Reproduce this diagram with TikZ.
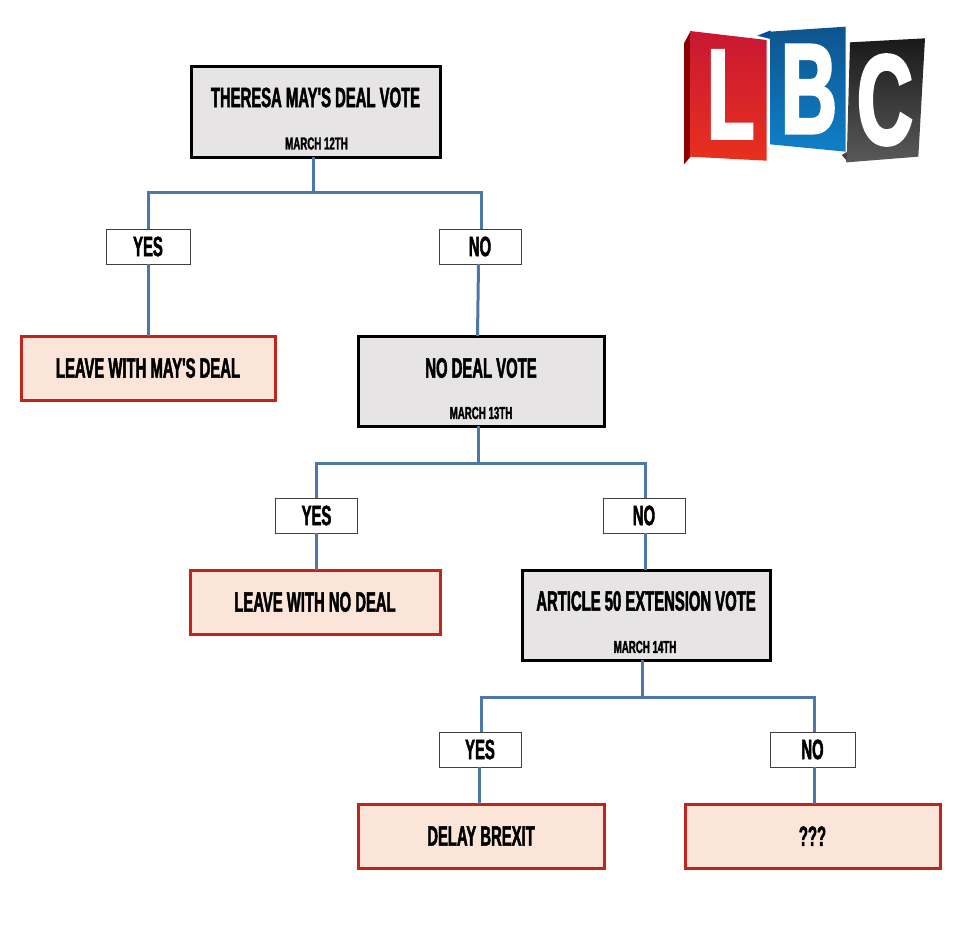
\documentclass[tikz,border=0pt]{standalone}
\usepackage{fontspec}
\newfontfamily\labelfont[FakeStretch=0.53,FakeBold=1.6]{Liberation Sans Bold}
\newfontfamily\datefont[FakeStretch=0.56,FakeBold=1.6]{Liberation Sans Bold}
\newfontfamily\logofont[FakeStretch=0.6,FakeBold=2.4]{Liberation Sans Bold}
\definecolor{linkblue}{HTML}{4C77A6}
\definecolor{votefill}{HTML}{E6E4E5}
\definecolor{endfill}{HTML}{FBE4D8}
\definecolor{endline}{HTML}{C0241C}
\tikzset{
  votebox/.style={draw=black,line width=2.25pt,fill=votefill,inner sep=0pt,outer sep=0pt},
  endbox/.style={draw=endline,line width=2.25pt,fill=endfill,inner sep=0pt,outer sep=0pt,
    font=\labelfont\fontsize{21}{21}\selectfont,text=black},
  answer/.style={draw=black!75,line width=0.6pt,fill=white,inner sep=0pt,outer sep=0pt,
    font=\labelfont\fontsize{21}{21}\selectfont,text=black},
  title/.style={inner sep=0pt,font=\labelfont\fontsize{21}{21}\selectfont,text=black},
  datelabel/.style={inner sep=0pt,font=\datefont\fontsize{13}{13}\selectfont,text=black},
  link/.style={draw=linkblue,line width=2.25pt},
  logoletter/.style={inner sep=0pt,text=white,font=\logofont\fontsize{96}{96}\selectfont}
}
\begin{document}
\begin{tikzpicture}[x=0.75pt,y=-0.75pt]
\useasboundingbox[fill=white] (0,0) rectangle (960,932);

% Vote boxes
\node[votebox,minimum width=186.75pt,minimum height=68.25pt] (vote1) at (315.5,111.5) {};
\node[title] (vote1t) at (315.5,97.5) {THERESA MAY'S DEAL VOTE};
\node[datelabel] (vote1d) at (316.5,143.5) {MARCH 12TH};
\node[votebox,minimum width=184.5pt,minimum height=67.5pt] (vote2) at (481,381) {};
\node[title] (vote2t) at (481,368) {NO DEAL VOTE};
\node[datelabel] (vote2d) at (481,413) {MARCH 13TH};
\node[votebox,minimum width=186pt,minimum height=67.5pt] (vote3) at (646,615) {};
\node[title] (vote3t) at (646,601) {ARTICLE 50 EXTENSION VOTE};
\node[datelabel] (vote3d) at (645,647) {MARCH 14TH};

% Outcome boxes
\node[endbox,minimum width=190.5pt,minimum height=48pt] (end1) at (148,368) {LEAVE WITH MAY'S DEAL};
\node[endbox,minimum width=187.5pt,minimum height=48pt] (end2) at (315,602) {LEAVE WITH NO DEAL};
\node[endbox,minimum width=184.5pt,minimum height=48pt] (end3) at (481,836) {DELAY BREXIT};
\node[endbox,minimum width=191.25pt,minimum height=48pt] (end4) at (812.5,836) {???};

% Answer labels
\node[answer,minimum width=63pt,minimum height=26.25pt] (yes1) at (148,246.5) {YES};
\node[answer,minimum width=61.5pt,minimum height=26.25pt] (no1) at (480,246.5) {NO};
\node[answer,minimum width=61.5pt,minimum height=26.25pt] (yes2) at (316.5,515.5) {YES};
\node[answer,minimum width=61.5pt,minimum height=26.25pt] (no2) at (644,515.5) {NO};
\node[answer,minimum width=61.5pt,minimum height=26.25pt] (yes3) at (480,749.5) {YES};
\node[answer,minimum width=63.75pt,minimum height=26.25pt] (no3) at (812.5,749.5) {NO};

% Branch points and line ends
\coordinate (fork1) at (313,192);
\coordinate (fork2) at (478,463);
\coordinate (fork3) at (642,697);
\coordinate (in2) at (477.5,336);
\coordinate (out1) at (478.5,264);
\coordinate (lineA) at (148,229);
\coordinate (lineB) at (481,229);
\coordinate (lineC) at (316,498);
\coordinate (lineD) at (645,498);
\coordinate (lineE) at (481,732);
\coordinate (lineF) at (814,732);
\coordinate (out3) at (479,767);
\coordinate (out4) at (814,767);
\coordinate (out2) at (645,533);

% Connectors
\draw[link] (fork1 |- vote1.south) -- (fork1);
\draw[link] (lineA) |- (fork1) -| (lineB);
\draw[link] (yes1.south) -- (end1.north);
\draw[link] (out1) -- (in2);
\draw[link] (fork2 |- vote2.south) -- (fork2);
\draw[link] (lineC) |- (fork2) -| (lineD);
\draw[link] (lineC |- yes2.south) -- (lineC |- end2.north);
\draw[link] (out2) -- (out2 |- vote3.north);
\draw[link] (fork3 |- vote3.south) -- (fork3);
\draw[link] (lineE) |- (fork3) -| (lineF);
\draw[link] (out3) -- (out3 |- end3.north);
\draw[link] (out4) -- (out4 |- end4.north);

% Station logo, three folded panels with white capitals
\begin{scope}[shift={(670,15)},x=0.25pt,y=-0.25pt]
  \fill[red!55!black] (42,85) -- (62,48) -- (62,425) -- (42,448) -- cycle;
  \shade[top color={rgb,255:red,200;green,24;blue,50},bottom color={rgb,255:red,232;green,48;blue,30}]
    (60,48) -- (290,75) -- (290,437) -- (60,425) -- cycle;
  \fill[blue!45!black!70!cyan] (262,62) -- (302,46) -- (302,72) -- cycle;
  \shade[top color={rgb,255:red,14;green,84;blue,142},bottom color={rgb,255:red,14;green,128;blue,200}]
    (300,50) -- (527,35) -- (527,410) -- (300,388) -- cycle;
  \fill[black!75] (515,420) -- (542,405) -- (535,442) -- cycle;
  \shade[top color=black!90,bottom color=black!65]
    (540,82) -- (765,70) -- (745,425) -- (530,442) -- cycle;
  \node[logoletter] (logoL) at (182,238) {L};
  \node[logoletter] (logoB) at (417,222) {B};
  \node[logoletter] (logoC) at (645,255) {C};
\end{scope}
\end{tikzpicture}
\end{document}
